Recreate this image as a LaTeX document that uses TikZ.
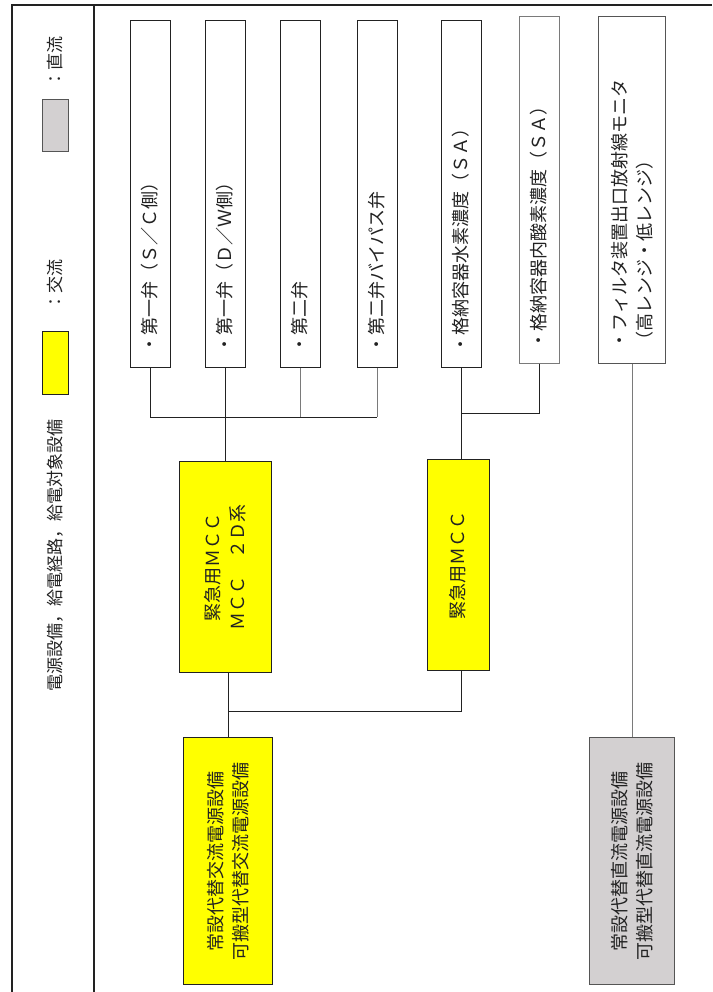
\documentclass[tikz,border=0pt]{standalone}
\usepackage{fontspec}
\newfontfamily\jp{Noto Sans CJK JP}
\definecolor{Ink}{HTML}{222222}
\definecolor{InkSoft}{HTML}{555555}
\definecolor{WireGray}{HTML}{7A7A7A}
\definecolor{AcYellow}{HTML}{FFFF00}
\definecolor{DcGray}{HTML}{D3D0D1}

\begin{document}
\begin{tikzpicture}[x=1pt,y=-1pt,
  lbl/.style={font=\jp\fontsize{18}{25}\selectfont,text=Ink},
  vbox/.style={lbl,draw=Ink,line width=1pt,fill=white,rotate=90,minimum width=346pt,minimum height=40pt,inner xsep=14pt,inner ysep=0pt,text width=318pt,align=left},
  acbox/.style={lbl,draw=Ink,line width=1pt,fill=AcYellow,rotate=90,inner sep=0pt,align=center},
  dcbox/.style={lbl,draw=InkSoft,line width=1pt,fill=DcGray,rotate=90,inner sep=0pt,align=center},
  keytext/.style={lbl,font=\jp\fontsize{17}{22}\selectfont,rotate=90,inner sep=0pt},
  wire/.style={draw=Ink,line width=1pt},
  wirelt/.style={draw=WireGray,line width=1pt},
  frame/.style={draw=Ink,line width=1.5pt}]
\useasboundingbox (0,0) rectangle (712,992);
% frame and legend column
\draw[frame] (12,992) -- (12,5) -- (712,5);
\draw[frame] (94,5) -- (94,992);
\node[keytext] (keymain) at (55,555) {電源設備，給電経路，給電対象設備};
\node[draw=Ink,line width=1pt,fill=AcYellow,minimum width=26pt,minimum height=63pt,inner sep=0pt] (keyac) at (55,363) {};
\node[keytext] (keyactxt) at (55,285) {：交流};
\node[draw=InkSoft,line width=1pt,fill=DcGray,minimum width=26pt,minimum height=52pt,inner sep=0pt] (keydc) at (55,126) {};
\node[keytext] (keydctxt) at (55,62) {：直流};
% loads
\node[vbox] (v1) at (150,194) {・第一弁（Ｓ／Ｃ側）};
\node[vbox] (v2) at (225,194) {・第一弁（Ｄ／Ｗ側）};
\node[vbox] (v3) at (300,194) {・第二弁};
\node[vbox] (v4) at (377,194) {・第二弁バイパス弁};
\node[vbox] (v5) at (461,194) {・格納容器水素濃度（ＳＡ）};
\node[vbox,draw=WireGray] (v6) at (539,190) {・格納容器内酸素濃度（ＳＡ）};
\node[vbox,draw=InkSoft,minimum height=67pt] (v7) at (632,190) {・フィルタ装置出口放射線モニタ\\（高レンジ・低レンジ）};
% MCCs and sources
\node[acbox,minimum width=211pt,minimum height=92pt] (m1) at (225,567) {緊急用ＭＣＣ\\ＭＣＣ　２Ｄ系};
\node[acbox,minimum width=211pt,minimum height=62pt] (m2) at (458,565) {緊急用ＭＣＣ};
\node[acbox,minimum width=247pt,minimum height=89pt] (ac) at (228,861) {常設代替交流電源設備\\可搬型代替交流電源設備};
\node[dcbox,minimum width=247pt,minimum height=85pt] (dc) at (632,861) {常設代替直流電源設備\\可搬型代替直流電源設備};
% buses
\coordinate (busA) at (0,417);
\coordinate (busB) at (0,413);
\coordinate (busC) at (0,711);
\draw[wire] (v1.west) |- (v4.west |- busA);
\draw[wirelt] (v3.west) -- (v3.west |- busA);
\draw[wirelt] (v4.west) -- (v4.west |- busA);
\draw[wire] (v2.west) -- (m1.east);
\draw[wire] (v6.west) |- (v5.west |- busB);
\draw[wire] (v5.west) -- (v5.west |- m2.east);
\draw[wire] (v5.west |- m2.west) |- (busC -| ac.east);
\draw[wire] (m1.west -| ac.east) -- (ac.east);
\draw[wirelt] (v7.west) -- (dc.east);
\end{tikzpicture}
\end{document}
